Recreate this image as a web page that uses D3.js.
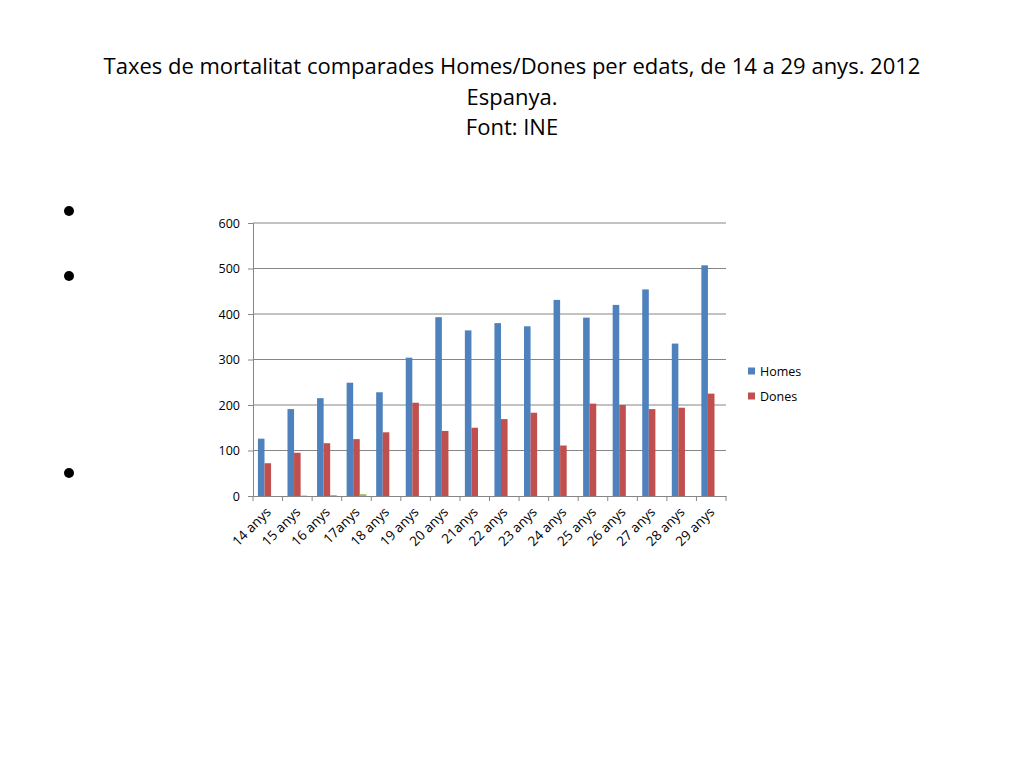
<!DOCTYPE html>
<html>
<head>
<meta charset="utf-8">
<script src="https://cdn.jsdelivr.net/npm/d3@7"></script>
<style>
  body { margin: 0; background: #fff; }
  svg { display: block; }
  text { font-family: "Liberation Sans Narrow", "Open Sans", sans-serif; }
</style>
</head>
<body>
<svg id="chart" width="1024" height="768"></svg>
<script>
const categories = ['14 anys', '15 anys', '16 anys', '17anys', '18 anys', '19 anys', '20 anys', '21anys',
  '22 anys', '23 anys', '24 anys', '25 anys', '26 anys', '27 anys', '28 anys', '29 anys']
const homes = [126, 191, 215, 249, 228, 304, 393, 364, 380, 373, 431, 392, 420, 454, 335, 507]
const dones = [72, 95, 116, 125, 140, 205, 143, 150, 169, 183, 111, 203, 200, 191, 194, 225]
// third tiny series in the source, not shown in the legend
const serie3 = [0, 1, 2, 4, 0, 0, 0, 0, 0, 0, 0, 0, 0, 0, 0, 0]
const yTicks = [0, 100, 200, 300, 400, 500, 600]
const titleLines = ['Taxes de mortalitat comparades Homes/Dones per edats, de 14 a 29 anys. 2012', 'Espanya.', 'Font: INE']
const bulletRows = [211, 276, 473]

const series = [
  { name: 'Homes', values: homes, color: '#4f81bd', legend: true },
  { name: 'Dones', values: dones, color: '#c0504d', legend: true },
  { name: 'Serie3', values: serie3, color: '#9bbb59', legend: false },
]

const svg = d3.select('#chart')

// title
svg.append('g')
  .selectAll('text')
  .data(titleLines)
  .join('text')
  .attr('x', 512)
  .attr('y', (d, i) => 74 + i * 30.5)
  .attr('text-anchor', 'middle')
  .attr('font-size', 22)
  .attr('fill', '#000')
  .text(d => d)

// slide bullets
svg.append('g')
  .selectAll('circle')
  .data(bulletRows)
  .join('circle')
  .attr('cx', 69)
  .attr('cy', d => d)
  .attr('r', 5)
  .attr('fill', '#000')

const margin = { left: 253, top: 223, right: 726, bottom: 496 }
const g = svg.append('g')

const x = d3.scaleBand().domain(categories).range([margin.left, margin.right]).padding(0)
const gap = x.bandwidth() * 0.75 / 4.5
const xs = d3.scaleBand().domain(series.map(s => s.name)).range([gap, x.bandwidth() - gap]).padding(0)
const y = d3.scaleLinear().domain([0, 600]).range([margin.bottom, margin.top])

// gridlines
g.append('g')
  .selectAll('line')
  .data(yTicks.slice(1))
  .join('line')
  .attr('x1', margin.left)
  .attr('x2', margin.right)
  .attr('y1', d => y(d))
  .attr('y2', d => y(d))
  .attr('stroke', '#868686')
  .attr('stroke-width', 1)

// bars
series.forEach(s => {
  g.append('g')
    .selectAll('rect')
    .data(s.values)
    .join('rect')
    .attr('x', (d, i) => x(categories[i]) + xs(s.name))
    .attr('y', d => y(d))
    .attr('width', xs.bandwidth())
    .attr('height', d => y(0) - y(d))
    .attr('fill', s.color)
})

// y axis
const yAxis = g.append('g')
  .attr('transform', `translate(${margin.left},0)`)
  .call(d3.axisLeft(y).tickValues(yTicks).tickSize(5).tickPadding(8))
yAxis.select('.domain').attr('stroke', '#868686')
yAxis.selectAll('.tick line').attr('stroke', '#868686')
yAxis.selectAll('.tick text')
  .attr('font-size', 12.5)
  .attr('fill', '#000')
  .style('font-family', '"Open Sans", sans-serif')

// x axis
const xAxis = g.append('g')
  .attr('transform', `translate(0,${margin.bottom})`)
  .call(d3.axisBottom(x).tickSize(0).tickPadding(0))
xAxis.select('.domain').attr('stroke', '#868686')
xAxis.selectAll('.tick text')
  .attr('font-size', 13.5)
  .attr('fill', '#000')
  .style('font-family', '"Open Sans", sans-serif')
  .attr('text-anchor', 'end')
  .attr('x', 0)
  .attr('y', 0)
  .attr('dy', 0)
  .attr('transform', 'translate(4,17) rotate(-45)')

// category boundary ticks
xAxis.append('g')
  .selectAll('line')
  .data(categories.map(c => x(c)).concat([margin.right]))
  .join('line')
  .attr('x1', d => d)
  .attr('x2', d => d)
  .attr('y1', 0)
  .attr('y2', 5)
  .attr('stroke', '#868686')

// legend
const legendItems = series.filter(s => s.legend)
const legend = svg.append('g')
  .selectAll('g')
  .data(legendItems)
  .join('g')
  .attr('transform', (d, i) => `translate(748,${371 + i * 25})`)
legend.append('rect')
  .attr('x', 0)
  .attr('y', -3.5)
  .attr('width', 7)
  .attr('height', 7)
  .attr('fill', d => d.color)
legend.append('text')
  .attr('x', 12)
  .attr('y', 4.5)
  .attr('font-size', 12.5)
  .style('font-family', '"Open Sans", sans-serif')
  .text(d => d.name)
</script>
</body>
</html>
